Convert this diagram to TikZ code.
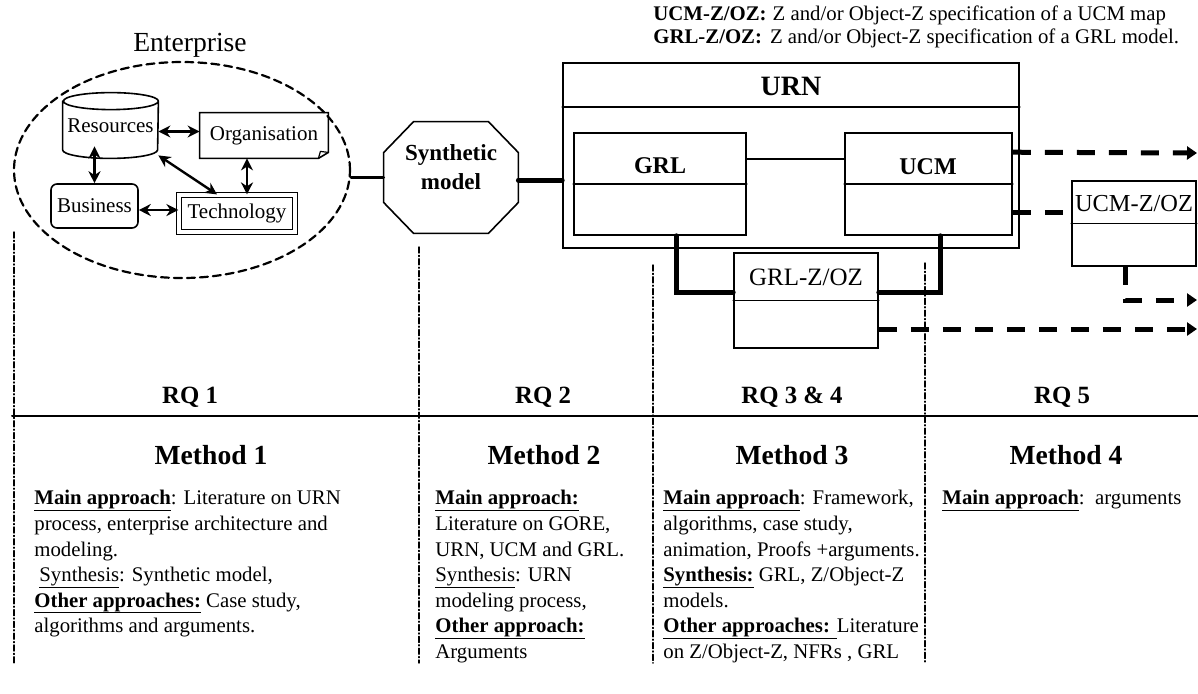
\documentclass[tikz,border=0pt]{standalone}
\usepackage{fontspec}
\setmainfont{Liberation Serif}
\usetikzlibrary{arrows.meta,shapes.geometric}
\newcommand{\ulin}[1]{\underline{\smash{#1}\rule[-1.4pt]{0pt}{0pt}}\vphantom{#1}}

\begin{document}
\begin{tikzpicture}[x=0.5pt,y=-0.5pt,>={Stealth[length=6pt,width=6pt]},line cap=round,
  box/.style={draw,line width=0.8pt,inner sep=0pt},
  biarrow/.style={<->,line width=1.2pt},
  heavy/.style={line width=2.5pt},
  dashlink/.style={line width=2.5pt,line cap=butt,dash pattern=on 9pt off 7pt},
  dasharrow/.style={dashlink,-{Triangle[length=5pt,width=6.5pt]}},
  sepline/.style={line width=0.7pt,dash pattern=on 3pt off 1.2pt on 0.5pt off 1.2pt},
  small/.style={font=\fontsize{10.5}{12}\selectfont},
  legend/.style={anchor=west,inner sep=0pt,font=\fontsize{10.4}{12}\selectfont},
  rqlabel/.style={font=\fontsize{12.4}{14}\selectfont\bfseries},
  methlabel/.style={font=\fontsize{13.8}{16}\selectfont\bfseries},
  bodytext/.style={anchor=north west,inner sep=0pt,align=left,font=\fontsize{10.4}{12.8}\selectfont}]
\useasboundingbox (0,0) rectangle (1198,693);

\node[legend] (legucm) at (653,15) {\textbf{UCM-Z/OZ:}\hspace{3pt}Z and/or Object-Z specification of a UCM map};
\node[legend] (leggrl) at (653,38) {\textbf{GRL-Z/OZ:}\hspace{4pt}Z and/or Object-Z specification of a GRL model.};

\node[draw,ellipse,line width=1.1pt,dash pattern=on 4pt off 2.5pt,minimum width=168pt,minimum height=108pt] (ent) at (182,170) {};
\node[font=\fontsize{13.8}{16}\selectfont] (enttitle) at (190,45) {Enterprise};

\node[small,inner sep=0pt,minimum width=47.5pt,minimum height=32.5pt] (res) at (110.5,125.5) {Resources};
\draw[line width=0.8pt] ([yshift=-4.25pt]res.north west) -- ([yshift=4.25pt]res.south west)
  arc[start angle=180,end angle=360,x radius=23.75pt,y radius=4.25pt] -- ([yshift=-4.25pt]res.north east)
  arc[start angle=0,end angle=180,x radius=23.75pt,y radius=4.25pt]
  arc[start angle=180,end angle=360,x radius=23.75pt,y radius=4.25pt];
\node[small,inner sep=0pt,minimum width=64pt,minimum height=22.5pt] (org) at (264,135.5) {Organisation};
\draw[line width=0.8pt] (org.north west) -- (org.north east) -- ([yshift=3pt]org.south east) -- ([xshift=-5pt]org.south east) -- (org.south west) -- cycle;
\draw[line width=0.6pt] ([yshift=3pt]org.south east) -- ([xshift=-4pt,yshift=3.5pt]org.south east) -- ([xshift=-5pt]org.south east);
\node[box,small,rounded corners=3pt,minimum width=43.5pt,minimum height=22pt] (bus) at (94.5,206) {Business};
\node[box,small,line width=0.6pt,double,double distance=1.8pt,minimum width=58pt,minimum height=18.5pt] (tech) at (237,213.5) {Technology};

\draw[biarrow] ([yshift=2pt]org.west -| res.east) -- ([yshift=2pt]org.west);
\draw[biarrow] ([yshift=6pt]bus.north |- res.south) -- (bus.north);
\draw[biarrow] ([yshift=1.5pt]res.south east) -- ([xshift=-10pt]tech.north);
\draw[biarrow] ([xshift=5pt]tech.north |- org.south) -- ([xshift=5pt]tech.north);
\draw[biarrow] ([yshift=-2pt]bus.east) -- ([yshift=-2pt]bus.east -| tech.west);

\node[inner sep=0pt,minimum width=67pt,minimum height=55.5pt] (synth) at (451,177.5) {};
\draw[line width=0.8pt] ([xshift=15pt]synth.north west) -- ([xshift=-15pt]synth.north east) -- ([yshift=-15.5pt]synth.north east)
  -- ([yshift=15.5pt]synth.south east) -- ([xshift=-15pt]synth.south east) -- ([xshift=15pt]synth.south west)
  -- ([yshift=15.5pt]synth.south west) -- ([yshift=-15.5pt]synth.north west) -- cycle;
\node[align=center,font=\fontsize{11.5}{14.5}\selectfont\bfseries] (synthtxt) at (451,167) {Synthetic\\model};

\node[box,minimum width=228pt,minimum height=92.5pt] (urn) at (791,155.5) {};
\draw[line width=0.8pt] ([yshift=-22.5pt]urn.north west) -- ([yshift=-22.5pt]urn.north east);
\node[font=\fontsize{14}{16}\selectfont\bfseries] (urntxt) at (791,86) {URN};

\node[box,minimum width=86pt,minimum height=51pt] (grl) at (660,184) {};
\draw[line width=0.8pt] (grl.west) -- (grl.east);
\node[font=\fontsize{12}{14}\selectfont\bfseries] (grltxt) at (660,166) {GRL};
\node[box,minimum width=83.5pt,minimum height=51pt] (ucm) at (928.5,184) {};
\draw[line width=0.8pt] (ucm.west) -- (ucm.east);
\node[font=\fontsize{12}{14}\selectfont\bfseries] (ucmtxt) at (928,167) {UCM};
\draw[line width=1.2pt] ([yshift=-13.5pt]grl.north east) -- ([yshift=-13.5pt]ucm.north west);

\node[box,minimum width=72pt,minimum height=47.5pt] (grlz) at (806,300.5) {};
\draw[line width=0.8pt] (grlz.west) -- (grlz.east);
\node[font=\fontsize{12.5}{14}\selectfont] (grlztxt) at (806,277) {GRL-Z/OZ};
\node[box,minimum width=62pt,minimum height=42.5pt] (ucmz) at (1134,223.5) {};
\draw[line width=0.8pt] (ucmz.west) -- (ucmz.east);
\node[font=\fontsize{12.2}{14}\selectfont] (ucmztxt) at (1134,204) {UCM-Z/OZ};

\draw[line width=1.5pt] (ent.east |- synth.west) -- (synth.west);
\draw[heavy] ([yshift=-1.25pt]synth.east) -- ([yshift=-1.25pt]synth.east -| urn.west);
\draw[heavy] ([xshift=8pt]grl.south) |- ([yshift=4.25pt]grlz.west);
\draw[heavy] ([xshift=5.75pt]ucm.south) |- ([yshift=4.25pt]grlz.east);

\coordinate (out1) at (1197,153);
\coordinate (out3) at (1197,300);
\coordinate (out4) at (1197,329);
\draw[dasharrow] ([yshift=-10pt]ucm.north east) -- (out1);
\draw[dashlink] ([yshift=-14pt]ucm.east) -- ([yshift=-14pt]ucm.east -| ucmz.west);
\draw[dasharrow] ([xshift=-4.5pt]ucmz.south) |- (out3);
\draw[dasharrow] ([yshift=-14.25pt]grlz.east) -- (out4);

\draw[sepline] (14,232) -- (14,663);
\draw[sepline] (419,247) -- (419,663);
\draw[sepline] (653,265) -- (653,663);
\draw[sepline] (925,263) -- (925,663);
\draw[line width=1pt] (12,416) -- (1198,416);

\node[rqlabel] (rq1) at (190,397) {RQ 1};
\node[rqlabel] (rq2) at (543,397) {RQ 2};
\node[rqlabel] (rq34) at (792,397) {RQ 3 \& 4};
\node[rqlabel] (rq5) at (1062,397) {RQ 5};

\node[methlabel] (meth1) at (211,455) {Method 1};
\node[methlabel] (meth2) at (544,455) {Method 2};
\node[methlabel] (meth3) at (792,455) {Method 3};
\node[methlabel] (meth4) at (1066,455) {Method 4};

\node[bodytext] (body1) at (34,490) {\ulin{\textbf{Main approach}}: Literature on URN\\
process, enterprise architecture and\\
modeling.\\
\hspace*{2.5pt}\ulin{Synthesis}: Synthetic model,\\
\ulin{\textbf{Other approaches:}} Case study,\\
algorithms and arguments.};
\node[bodytext] (body2) at (435,490) {\ulin{\textbf{Main approach:}}\\
Literature on GORE,\\
URN, UCM and GRL.\\
\ulin{Synthesis}: URN\\
modeling process,\\
\ulin{\textbf{Other approach:}}\\
Arguments};
\node[bodytext] (body3) at (663,490) {\ulin{\textbf{Main approach}}: Framework,\\
algorithms, case study,\\
animation, Proofs +arguments.\\
\ulin{\textbf{Synthesis:}} GRL, Z/Object-Z\\
models.\\
\ulin{\textbf{Other approaches:} }Literature\\
on Z/Object-Z, NFRs , GRL};
\node[bodytext] (body4) at (942,490) {\ulin{\textbf{Main approach}}:~~arguments};
\end{tikzpicture}
\end{document}
